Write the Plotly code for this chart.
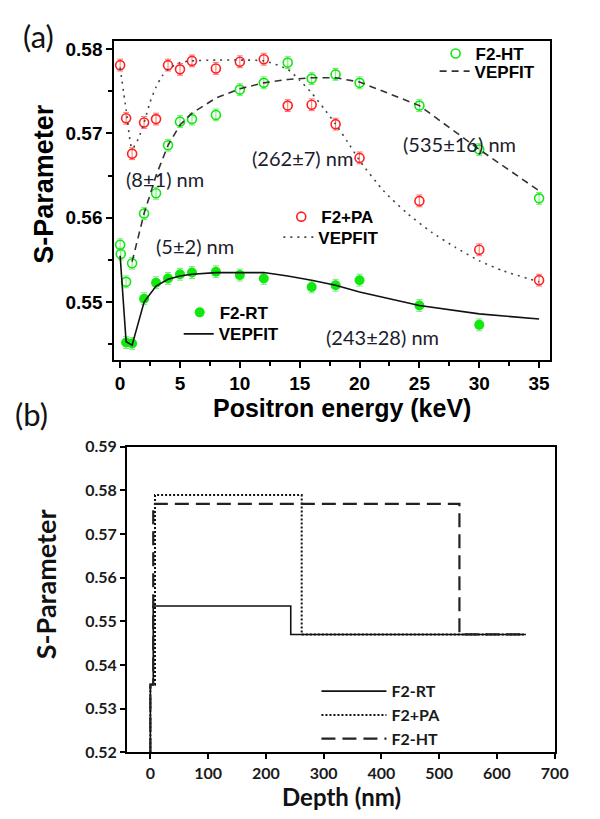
import plotly.graph_objects as go

# ---------------- Panel (a) data ----------------
E_pa = [0, 0.5, 1, 2, 3, 4, 5, 6, 8, 10, 12, 14, 16, 18, 20, 25, 30, 35]
S_pa = [0.5781, 0.5718, 0.5676, 0.5713, 0.5717, 0.5781, 0.5776, 0.5786, 0.5777,
        0.5785, 0.5788, 0.5733, 0.5734, 0.5711, 0.5671, 0.5620, 0.5562, 0.5526]
err_pa = [0.0007] * len(E_pa)

E_ht = [0, 0.05, 0.5, 1, 2, 3, 4, 5, 6, 8, 10, 12, 14, 16, 18, 20, 25, 30, 35]
S_ht = [0.5568, 0.5557, 0.5524, 0.5546, 0.5605, 0.5629, 0.5686, 0.5714, 0.5717,
        0.5722, 0.5752, 0.5760, 0.5784, 0.5765, 0.5770, 0.5760, 0.5733, 0.5681, 0.5623]
err_ht = [0.0007] * len(E_ht)

E_rt = [0.5, 1, 2, 3, 4, 5, 6, 8, 10, 12, 16, 18, 20, 25, 30]
S_rt = [0.5452, 0.5451, 0.5504, 0.5523, 0.5528, 0.5533, 0.5535, 0.5536, 0.5532,
        0.5528, 0.5518, 0.5520, 0.5526, 0.5496, 0.5473]
err_rt = [0.0007] * len(E_rt)

# VEPFIT fit curves
Efit_rt = [0, 0.5, 1, 2, 3, 4, 5, 6, 8, 10, 12, 14, 16, 18, 20, 25, 30, 35]
Sfit_rt = [0.5555, 0.5453, 0.5449, 0.5500, 0.5519, 0.5527, 0.5531, 0.5533, 0.5535,
           0.5535, 0.5535, 0.5531, 0.5526, 0.5520, 0.5512, 0.5496, 0.5486, 0.5480]

Efit_ht = [1, 1.5, 2, 3, 4, 5, 6, 8, 10, 12, 14, 16, 18, 20, 25, 30, 35]
Sfit_ht = [0.5548, 0.5578, 0.5605, 0.5650, 0.5686, 0.5710, 0.5724, 0.5742, 0.5753,
           0.5760, 0.5764, 0.5766, 0.5766, 0.5761, 0.5733, 0.5681, 0.5632]

Efit_pa = [0, 0.5, 1, 1.5, 2, 2.5, 3, 3.5, 4, 5, 6, 8, 10, 12, 14, 15, 16, 17, 18,
           19, 20, 22, 24, 26, 28, 30, 32, 35]
Sfit_pa = [0.5778, 0.5728, 0.5682, 0.5693, 0.5713, 0.5737, 0.5755, 0.5768, 0.5776,
           0.5784, 0.5786, 0.5787, 0.5787, 0.5786, 0.5776, 0.5763, 0.5748, 0.5730,
           0.5711, 0.5690, 0.5668, 0.5632, 0.5605, 0.5583, 0.5565, 0.5549, 0.5537, 0.5524]

# ---------------- Panel (b) data ----------------
D_rt = [0, 0, 5, 5, 243, 243, 650]
Sd_rt = [0.52, 0.5355, 0.5355, 0.5535, 0.5535, 0.547, 0.547]
D_pa = [0, 0, 8, 8, 262, 262, 650]
Sd_pa = [0.52, 0.5355, 0.5355, 0.5789, 0.5789, 0.547, 0.547]
D_ht = [0, 0, 5, 5, 535, 535, 650]
Sd_ht = [0.52, 0.5355, 0.5355, 0.5769, 0.5769, 0.547, 0.547]

xticks_a = [0, 5, 10, 15, 20, 25, 30, 35]
yticks_a = [0.55, 0.56, 0.57, 0.58]
xticks_b = [0, 100, 200, 300, 400, 500, 600, 700]
yticks_b = [0.52, 0.53, 0.54, 0.55, 0.56, 0.57, 0.58, 0.59]

W, H = 600, 819
RED = "#ff2020"
RED_E = "#ff7070"
GREEN = "#10e810"
GREEN_E = "#70ee70"
A_FONT = "Liberation Sans"
B_FONT = "Lato"
TXT = "#1c1c2c"


def px(x):
    return x / W


def py(y):
    return 1 - y / H


fig = go.Figure()

# --- panel (a) traces ---
fig.add_trace(go.Scatter(
    x=E_ht, y=S_ht, mode="markers", name="F2-HT", legend="legend", showlegend=True,
    marker=dict(symbol="circle-open", size=9, color=GREEN, line=dict(width=1.6, color=GREEN)),
    error_y=dict(type="data", array=err_ht, color=GREEN_E, thickness=1, width=3),
    xaxis="x", yaxis="y"))
fig.add_trace(go.Scatter(
    x=Efit_ht, y=Sfit_ht, mode="lines", name="VEPFIT", legend="legend2",
    line=dict(color="#333333", width=1.6, dash="7px,5px"), xaxis="x", yaxis="y"))

fig.add_trace(go.Scatter(
    x=E_pa, y=S_pa, mode="markers", name="F2+PA", legend="legend3",
    marker=dict(symbol="circle-open", size=9, color=RED, line=dict(width=1.6, color=RED)),
    error_y=dict(type="data", array=err_pa, color=RED_E, thickness=1, width=3),
    xaxis="x", yaxis="y"))
fig.add_trace(go.Scatter(
    x=Efit_pa, y=Sfit_pa, mode="lines", name="VEPFIT", legend="legend4",
    line=dict(color="#444444", width=1.6, dash="2px,5px", shape="spline", smoothing=0.6),
    xaxis="x", yaxis="y"))

fig.add_trace(go.Scatter(
    x=E_rt, y=S_rt, mode="markers", name="F2-RT", legend="legend5",
    marker=dict(symbol="circle", size=10, color=GREEN),
    error_y=dict(type="data", array=err_rt, color=GREEN_E, thickness=1, width=3),
    xaxis="x", yaxis="y"))
fig.add_trace(go.Scatter(
    x=Efit_rt, y=Sfit_rt, mode="lines", name="VEPFIT", legend="legend6",
    line=dict(color="#111111", width=1.6), xaxis="x", yaxis="y"))

# --- panel (b) traces ---
fig.add_trace(go.Scatter(x=D_rt, y=Sd_rt, mode="lines", name="F2-RT", legend="legend7",
                         line=dict(color="#111111", width=1.6), xaxis="x2", yaxis="y2"))
fig.add_trace(go.Scatter(x=D_pa, y=Sd_pa, mode="lines", name="F2+PA", legend="legend7",
                         line=dict(color="#111111", width=2, dash="2px,2px"), xaxis="x2", yaxis="y2"))
fig.add_trace(go.Scatter(x=D_ht, y=Sd_ht, mode="lines", name="F2-HT", legend="legend7",
                         line=dict(color="#222222", width=2.2, dash="14px,7px"), xaxis="x2", yaxis="y2"))

afont_tick = dict(family=A_FONT, size=19, color="black", weight="bold")
bfont_tick = dict(family=B_FONT, size=16, color="#1a1a1a", weight="bold")

common_axis = dict(showgrid=False, zeroline=False, showline=True, linecolor="black",
                   mirror=True, ticks="outside", tickcolor="black")

layout = dict(
    width=W, height=H, margin=dict(l=0, r=0, t=0, b=0), showlegend=True,
    paper_bgcolor="white", plot_bgcolor="white",
    xaxis=dict(domain=[px(117), px(563)], range=[-0.49, 35.9], anchor="y",
               tickvals=xticks_a, ticktext=[str(v) for v in xticks_a],
               tickfont=afont_tick, linewidth=2, ticklen=6, tickwidth=2,
               minor=dict(dtick=2.5, tick0=0, ticks="outside", ticklen=4, tickwidth=1.5,
                          tickcolor="black"),
               **common_axis),
    yaxis=dict(domain=[py(358), py(32)], range=[0.54317, 0.58093], anchor="x",
               tickvals=yticks_a, ticktext=["%.2f" % v for v in yticks_a],
               tickfont=afont_tick, linewidth=2, ticklen=6, tickwidth=2,
               minor=dict(dtick=0.005, tick0=0.545, ticks="outside", ticklen=4, tickwidth=1.5,
                          tickcolor="black"),
               **common_axis),
    xaxis2=dict(domain=[px(130), px(568)], range=[-40.5, 700], anchor="y2",
                tickvals=xticks_b, ticktext=[str(v) for v in xticks_b],
                tickfont=bfont_tick, linewidth=2, ticklen=5, tickwidth=1.5,
                **common_axis),
    yaxis2=dict(domain=[py(760), py(447)], range=[0.52, 0.59], anchor="x2",
                tickvals=yticks_b, ticktext=["%.2f" % v for v in yticks_b],
                tickfont=bfont_tick, linewidth=2, ticklen=5, tickwidth=1.5,
                **common_axis),
)

afont_leg = dict(family=A_FONT, size=17, color="black", weight="bold")
leg_common = dict(xanchor="left", yanchor="middle", bgcolor="rgba(0,0,0,0)",
                  borderwidth=0, font=afont_leg, itemwidth=30)
# (a) legend rows
layout["legend"] = dict(x=px(446), y=py(45), **leg_common)
layout["legend2"] = dict(x=px(445), y=py(63), **leg_common)
layout["legend3"] = dict(x=px(288), y=py(212), **leg_common)
layout["legend4"] = dict(x=px(285), y=py(233), **leg_common)
layout["legend5"] = dict(x=px(184), y=py(310), **leg_common)
layout["legend6"] = dict(x=px(183), y=py(332), **leg_common)
# (b) legend
layout["legend7"] = dict(x=px(324), y=py(680), xanchor="left", yanchor="top",
                         bgcolor="rgba(0,0,0,0)", borderwidth=0, itemwidth=65,
                         font=dict(family=B_FONT, size=16, color="#1a1a1a", weight="bold"))

fig.update_layout(**layout)

annotations = [
    # panel labels
    dict(text="(a)", x=px(39), y=py(27), font=dict(family=B_FONT, size=31, color="#111")),
    dict(text="(b)", x=px(32), y=py(414), font=dict(family=B_FONT, size=31, color="#111")),
    # axis titles (a)
    dict(text="Positron energy (keV)", x=px(350), y=py(407),
         font=dict(family=A_FONT, size=25, color="black", weight="bold")),
    dict(text="S-Parameter", x=px(45), y=py(178), textangle=-90,
         font=dict(family=A_FONT, size=27, color="black", weight="bold")),
    # axis titles (b)
    dict(text="Depth (nm)", x=px(350), y=py(805),
         font=dict(family=B_FONT, size=24, color="#111", weight="bold")),
    dict(text="S-Parameter", x=px(46), y=py(588), textangle=-90,
         font=dict(family=B_FONT, size=27, color="#111", weight="bold")),
    # thickness annotations
    dict(text="(8±1) nm", x=px(169), y=py(173), font=dict(family=B_FONT, size=20, color=TXT)),
    dict(text="(262±7) nm", x=px(310), y=py(152), font=dict(family=B_FONT, size=20, color=TXT)),
    dict(text="(535±16) nm", x=px(470), y=py(137), font=dict(family=B_FONT, size=20, color=TXT)),
    dict(text="(5±2) nm", x=px(200), y=py(242), font=dict(family=B_FONT, size=20, color=TXT)),
    dict(text="(243±28) nm", x=px(392), y=py(335), font=dict(family=B_FONT, size=20, color=TXT)),
]
for a in annotations:
    a.update(xref="paper", yref="paper", showarrow=False, xanchor="center", yanchor="middle")
fig.update_layout(annotations=annotations)

fig.write_html("out.html")
